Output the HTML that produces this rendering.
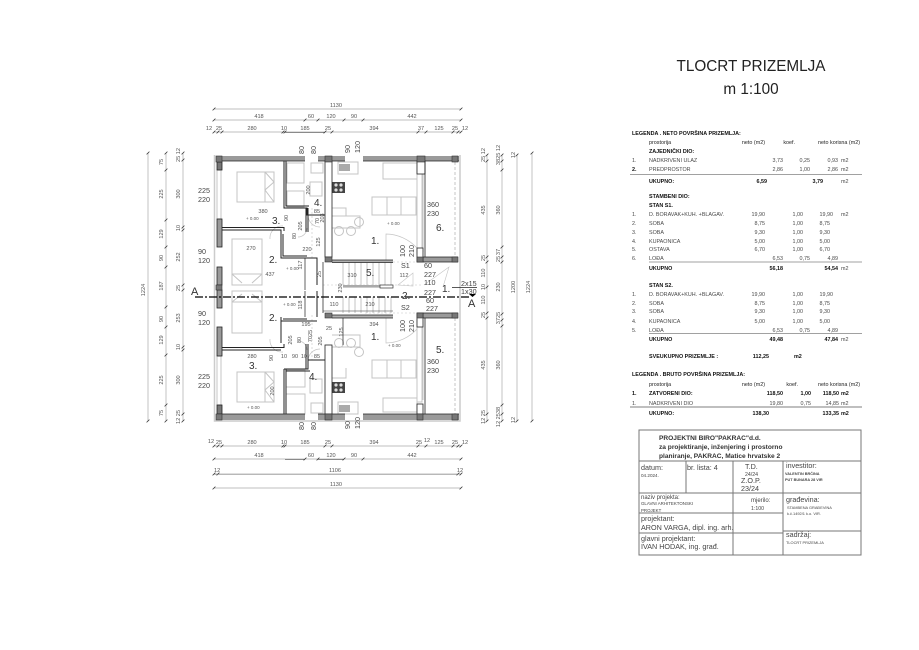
<!DOCTYPE html>
<html><head><meta charset="utf-8"><style>
html,body{margin:0;padding:0;background:#fff;width:919px;height:650px;overflow:hidden}
svg{display:block}
text{font-family:"Liberation Sans",sans-serif}
.d text{font-size:5.6px;fill:#555}
.r text{font-size:7.2px;fill:#444}
.n text{font-size:10px;fill:#333}
.t text{font-size:5.4px;fill:#4a4a4a}
.t .b{fill:#111;font-weight:bold}
.t .e{text-anchor:end}
.k text{fill:#444;font-size:7.2px}
</style></head><body>
<svg width="919" height="650" viewBox="0 0 919 650" xmlns="http://www.w3.org/2000/svg">
<defs>
<marker id="m" markerUnits="userSpaceOnUse" markerWidth="6" markerHeight="6" refX="3" refY="3" orient="0"><path d="M1.6 4.4L4.4 1.6" stroke="#333" stroke-width=".8"/></marker>
</defs>

<text x="751" y="71" font-size="15.3" text-anchor="middle" fill="#222">TLOCRT PRIZEMLJA</text>
<text x="751" y="94" font-size="15.3" text-anchor="middle" fill="#222">m 1:100</text>

<!-- dimension lines -->
<g fill="none" stroke="#aaa" stroke-width=".7" marker-start="url(#m)" marker-mid="url(#m)" marker-end="url(#m)">
<polyline points="214,109 461,109"/>
<polyline points="214,120 305,120 318,120 344,120 363,120 461,120"/>
<polyline points="214,132 218,132 222,132 283,132 285,132 325,132 332,132 418,132 426,132 453,132 458,132 461,132"/>
<polyline points="214,446 218,446 222,446 283,446 285,446 325,446 332,446 418,446 426,446 453,446 458,446 461,446"/>
<polyline points="214,459 305,459 318,459 344,459 363,459 461,459"/>
<polyline points="214,474 218,474 458,474 461,474"/>
<polyline points="214,488 461,488"/>
<polyline points="148,153 148,421"/>
<polyline points="166,153 166,170 166,220 166,247 166,267 166,307 166,327 166,355 166,405 166,421"/>
<polyline points="183,153 183,160 183,227 183,230 183,285 183,290 183,347 183,350 183,414 183,421"/>
<polyline points="487,155 487,161 487,257 487,262 487,287 487,313 487,318 487,414 487,421"/>
<polyline points="502,155 502,161 502,170 502,247 502,257 502,262 502,314 502,320 502,326 502,405 502,414 502,421"/>
<polyline points="517,155 517,421"/>
<polyline points="532,153 532,421"/>
</g>
<g stroke="#444" stroke-width=".6">
<path d="M285 132.3H325M285 459.3H305M318 459.3H344"/>
<path d="M214 474.3H458" stroke="#777" stroke-width=".5"/>
</g>
<g class="d">
<text x="336" y="107" text-anchor="middle">1130</text>
<text x="259" y="118" text-anchor="middle">418</text>
<text x="311" y="118" text-anchor="middle">60</text>
<text x="331" y="118" text-anchor="middle">120</text>
<text x="354" y="118" text-anchor="middle">90</text>
<text x="412" y="118" text-anchor="middle">442</text>
<text x="209" y="130" text-anchor="middle">12</text><text x="219" y="130" text-anchor="middle">25</text>
<text x="252" y="130" text-anchor="middle">280</text><text x="284" y="130" text-anchor="middle">10</text>
<text x="305" y="130" text-anchor="middle">185</text><text x="328" y="130" text-anchor="middle">25</text>
<text x="374" y="130" text-anchor="middle">394</text><text x="421" y="130" text-anchor="middle">37</text>
<text x="439" y="130" text-anchor="middle">125</text><text x="455" y="130" text-anchor="middle">25</text><text x="465" y="130" text-anchor="middle">12</text>
<text x="211" y="443" text-anchor="middle">12</text><text x="219" y="444" text-anchor="middle">25</text>
<text x="252" y="444" text-anchor="middle">280</text><text x="284" y="444" text-anchor="middle">10</text>
<text x="305" y="444" text-anchor="middle">185</text><text x="328" y="444" text-anchor="middle">25</text>
<text x="374" y="444" text-anchor="middle">394</text><text x="419" y="444" text-anchor="middle">25</text><text x="427" y="442" text-anchor="middle">12</text>
<text x="439" y="444" text-anchor="middle">125</text><text x="455" y="444" text-anchor="middle">25</text><text x="465" y="444" text-anchor="middle">12</text>
<text x="259" y="457" text-anchor="middle">418</text><text x="311" y="457" text-anchor="middle">60</text>
<text x="331" y="457" text-anchor="middle">120</text><text x="354" y="457" text-anchor="middle">90</text><text x="412" y="457" text-anchor="middle">442</text>
<text x="214" y="472">12</text><text x="335" y="472" text-anchor="middle">1106</text><text x="460" y="472" text-anchor="middle">12</text>
<text x="336" y="486" text-anchor="middle">1130</text>

<text transform="translate(145,290) rotate(-90)" text-anchor="middle">1224</text>
<text transform="translate(163,162) rotate(-90)" text-anchor="middle">75</text>
<text transform="translate(163,194) rotate(-90)" text-anchor="middle">225</text>
<text transform="translate(163,234) rotate(-90)" text-anchor="middle">129</text>
<text transform="translate(163,258) rotate(-90)" text-anchor="middle">90</text>
<text transform="translate(163,286) rotate(-90)" text-anchor="middle">187</text>
<text transform="translate(163,319) rotate(-90)" text-anchor="middle">90</text>
<text transform="translate(163,340) rotate(-90)" text-anchor="middle">129</text>
<text transform="translate(163,380) rotate(-90)" text-anchor="middle">225</text>
<text transform="translate(163,413) rotate(-90)" text-anchor="middle">75</text>
<text transform="translate(180,155) rotate(-90)" text-anchor="middle">25 12</text>
<text transform="translate(180,194) rotate(-90)" text-anchor="middle">300</text>
<text transform="translate(180,228) rotate(-90)" text-anchor="middle">10</text>
<text transform="translate(180,257) rotate(-90)" text-anchor="middle">252</text>
<text transform="translate(180,288) rotate(-90)" text-anchor="middle">25</text>
<text transform="translate(180,318) rotate(-90)" text-anchor="middle">253</text>
<text transform="translate(180,347) rotate(-90)" text-anchor="middle">10</text>
<text transform="translate(180,380) rotate(-90)" text-anchor="middle">300</text>
<text transform="translate(180,417) rotate(-90)" text-anchor="middle">12 25</text>

<text transform="translate(485,155) rotate(-90)" text-anchor="middle">25 12</text>
<text transform="translate(485,210) rotate(-90)" text-anchor="middle">435</text>
<text transform="translate(485,258) rotate(-90)" text-anchor="middle">25</text>
<text transform="translate(485,273) rotate(-90)" text-anchor="middle">110</text>
<text transform="translate(485,287) rotate(-90)" text-anchor="middle">10</text>
<text transform="translate(485,300) rotate(-90)" text-anchor="middle">110</text>
<text transform="translate(485,315) rotate(-90)" text-anchor="middle">25</text>
<text transform="translate(485,365) rotate(-90)" text-anchor="middle">435</text>
<text transform="translate(485,417) rotate(-90)" text-anchor="middle">12 25</text>
<text transform="translate(500,155) rotate(-90)" text-anchor="middle">3825 12</text>
<text transform="translate(500,210) rotate(-90)" text-anchor="middle">360</text>
<text transform="translate(500,252) rotate(-90)" text-anchor="middle">37</text>
<text transform="translate(500,259) rotate(-90)" text-anchor="middle">25</text>
<text transform="translate(500,287) rotate(-90)" text-anchor="middle">230</text>
<text transform="translate(500,318) rotate(-90)" text-anchor="middle">3725</text>
<text transform="translate(500,365) rotate(-90)" text-anchor="middle">360</text>
<text transform="translate(500,417) rotate(-90)" text-anchor="middle">12 2538</text>
<text transform="translate(515,287) rotate(-90)" text-anchor="middle">1200</text>
<text transform="translate(530,287) rotate(-90)" text-anchor="middle">1224</text>
<text transform="translate(515,155) rotate(-90)" text-anchor="middle">12</text>
<text transform="translate(515,420) rotate(-90)" text-anchor="middle">12</text>
</g>

<!-- furniture / light elements -->
<g fill="none" stroke="#c4c4c4" stroke-width="1">
<rect x="237" y="172" width="37" height="30"/><path d="M265 172V202M265 172l9 10-9 8 9 12M274 172v30"/>
<rect x="232" y="239" width="30" height="46"/><path d="M232 274l10 9M262 274l-10 9M232 274h30"/>
<rect x="232" y="291" width="30" height="42"/><path d="M232 302l10-8M262 302l-10-8M232 302h30"/>
<rect x="237" y="372" width="37" height="30"/><path d="M265 372V402M265 372l9 10-9 8 9 12M274 372v30"/>
<rect x="287" y="163" width="17" height="20"/><rect x="287" y="191" width="17" height="16"/>
<rect x="286" y="370" width="19" height="17"/><rect x="286" y="394" width="19" height="20"/>
<rect x="311" y="163" width="12" height="10"/><rect x="310" y="182" width="12" height="14"/>
<rect x="311" y="403" width="12" height="10"/><rect x="310" y="379" width="12" height="14"/>
<rect x="383" y="163" width="34" height="16"/><rect x="383" y="398" width="34" height="14"/>
<rect x="372" y="197" width="15" height="18"/><rect x="387" y="197" width="14" height="18"/><rect x="401" y="197" width="15" height="18"/>
<rect x="372" y="360" width="15" height="18"/><rect x="387" y="360" width="14" height="18"/><rect x="401" y="360" width="15" height="18"/>
<path d="M332 216h28v12h-28M332 208h14v8M332 347h28v-12h-28M332 378h14v-10"/>
<circle cx="339" cy="231" r="4.5"/><circle cx="351" cy="231" r="4.5"/><circle cx="359" cy="222" r="4.5"/>
<circle cx="339" cy="343" r="4.5"/><circle cx="351" cy="343" r="4.5"/><circle cx="359" cy="352" r="4.5"/>
<rect x="338" y="162" width="20" height="12"/><rect x="338" y="402" width="20" height="12"/>
<rect x="217" y="170" width="4" height="49"/><rect x="217" y="356" width="4" height="49"/>
<rect x="417" y="170" width="5" height="84"/><rect x="417" y="320" width="5" height="82"/>
<path d="M455 162V255M455 318V414" stroke-dasharray="3 2"/>
<path d="M423 172v80M423 320v80"/>
<path d="M312 208v52M312 315v45M365 262h54M365 313h54M323 285h100" stroke-dasharray="2 2" stroke-width=".6"/>
<path d="M417 248a43 43 0 0 0-31-14v28M417 329a43 43 0 0 1-31 14v-26" stroke-width=".7"/>
<path d="M283 226a12 12 0 0 0-13 13M283 352a12 12 0 0 1-13-13M307 228a9 9 0 0 1-9 9M307 350a9 9 0 0 0-9-9M308 215a12 12 0 0 0 12 12M308 361a12 12 0 0 1 12-12" stroke-width=".7"/>
<path d="M214.5 155v266h245.5V155" stroke="#ccc" stroke-width="1.5"/>
<path d="M398 285l15-12v13zM424 285l25-18 -6 20" stroke-width=".6"/>
</g>

<!-- kitchen -->
<g>
<rect x="339" y="164" width="11" height="7" fill="#aaa"/>
<rect x="332" y="182" width="13" height="11" fill="#444"/><circle cx="336" cy="185" r="1.6" fill="#ddd"/><circle cx="341" cy="185" r="1.6" fill="#ddd"/><circle cx="336" cy="190" r="1.6" fill="#ddd"/><circle cx="341" cy="190" r="1.6" fill="#ddd"/>
<rect x="339" y="405" width="11" height="7" fill="#aaa"/>
<rect x="332" y="382" width="13" height="11" fill="#444"/><circle cx="336" cy="385" r="1.6" fill="#ddd"/><circle cx="341" cy="385" r="1.6" fill="#ddd"/><circle cx="336" cy="390" r="1.6" fill="#ddd"/><circle cx="341" cy="390" r="1.6" fill="#ddd"/>
</g>

<!-- stairs -->
<g stroke="#888" stroke-width=".5" fill="none">
<path d="M343 262V285M349 262V285M355 262V285M361 262V285M367 262V285M373 262V285M379 262V285M385 262V285M391 262V285"/>
<path d="M343 297V313M349 297V313M355 297V313M361 297V313M367 297V313M373 297V313M379 297V313M385 297V313M391 297V313"/>
<path d="M343 287H380M323 311H393" stroke="#333"/>
<path d="M323 262V313" stroke="#333" stroke-width=".8"/>
</g>
<rect x="343" y="285" width="37" height="2" fill="#aaa"/>
<rect x="380" y="285" width="13" height="3" fill="#fff" stroke="#333" stroke-width=".7"/>

<!-- walls -->
<g fill="#9a9a9a" stroke="none">
<rect x="216" y="156" width="89" height="5"/>
<rect x="318" y="156" width="27" height="5"/>
<rect x="363" y="156" width="96" height="5"/>
<rect x="216" y="414" width="89" height="6"/>
<rect x="318" y="414" width="27" height="6"/>
<rect x="363" y="414" width="96" height="6"/>
<rect x="423" y="257" width="35" height="5"/>
<rect x="423" y="313" width="35" height="5"/>
<rect x="332" y="260" width="61" height="2.5" fill="#b0b0b0"/>
<rect x="332" y="315" width="61" height="3" fill="#b0b0b0"/>
</g>
<g stroke="#222" stroke-width=".8" fill="none">
<path d="M222 161H305M318 161H345M363 161H459M222 414H305M318 414H345M363 414H459M423 257H458M423 262H458M423 313H458M423 318H458M332 260H393M332 262.5H393M332 315H393M332 318H393"/>
</g>
<g fill="#fff" stroke="#222" stroke-width=".8">
<rect x="217" y="162" width="5" height="8" fill="#777"/>
<rect x="217" y="219" width="5" height="28" fill="#999"/>
<rect x="217" y="267" width="5" height="18" fill="#999"/>
<rect x="217" y="290" width="5" height="18" fill="#999"/>
<rect x="217" y="327" width="5" height="29" fill="#999"/>
<rect x="217" y="405" width="5" height="9" fill="#777"/>
<rect x="417" y="161" width="8" height="13"/>
<rect x="417" y="248" width="6" height="14"/>
<rect x="417" y="313" width="6" height="14"/>
<rect x="417" y="404" width="6" height="10"/>
<rect x="325" y="161" width="7" height="96"/>
<rect x="325" y="345" width="7" height="69"/>
</g>
<g fill="#777" stroke="#333" stroke-width=".6">
<rect x="216" y="156" width="6" height="6"/>
<rect x="216" y="285" width="6" height="5"/>
<rect x="216" y="414" width="6" height="6"/>
<rect x="325" y="156" width="7" height="6"/>
<rect x="325" y="257" width="7" height="5"/>
<rect x="325" y="313" width="7" height="5"/>
<rect x="325" y="414" width="7" height="6"/>
<rect x="417" y="156" width="8" height="6"/>
<rect x="417" y="257" width="6" height="5"/>
<rect x="417" y="313" width="6" height="5"/>
<rect x="417" y="414" width="6" height="6"/>
<rect x="452" y="156" width="6" height="6"/>
<rect x="452" y="257" width="6" height="5"/>
<rect x="452" y="313" width="6" height="5"/>
<rect x="452" y="414" width="6" height="6"/>
</g>
<g fill="none" stroke="#222" stroke-width="1">
<path d="M284 161V208H307V215H325"/>
<path d="M286 161V206H309"/>
<path d="M222 227.5H284V231M222 230H281V234"/>
<path d="M281 234V258H317V262"/>
<path d="M283 234V256H307"/>
<path d="M317 262V285M317 291V317"/>
<path d="M222 347.5H284V344M222 350H281"/>
<path d="M281 317V321H317M283 319H307M281 321V343"/>
<path d="M284 369V414M286 369V414M284 369H308V360H325M286 371H310"/>
<path d="M306 208V232M308 208V232M306 344V369M308 344V369"/>
<path d="M343 318V345M305 258V290M305 291V317" stroke-width=".7"/>
<path d="M425 161V257M425 318V414" stroke-width=".8"/>
</g>

<!-- section line -->
<path d="M195 297H470" stroke="#000" stroke-width="1.3" stroke-dasharray="8 2 2 2"/>
<path d="M452 287.5H477" stroke="#222" stroke-width=".8"/>
<path d="M469 294h7l-3.5 3z" fill="#000"/>

<!-- dim text on plan -->
<g class="d">
<text x="263" y="213" text-anchor="middle">380</text><text x="251" y="250" text-anchor="middle">270</text>
<text x="270" y="276" text-anchor="middle">437</text><text x="307" y="251" text-anchor="middle">220</text>
<text x="317" y="213" text-anchor="middle">85</text><text x="306" y="326" text-anchor="middle">195</text>
<text x="252" y="358" text-anchor="middle">280</text><text x="284" y="358" text-anchor="middle">10</text>
<text x="295" y="358" text-anchor="middle">90</text><text x="304" y="358" text-anchor="middle">10</text><text x="317" y="358" text-anchor="middle">85</text>
<text x="374" y="326" text-anchor="middle">394</text><text x="352" y="277" text-anchor="middle">310</text>
<text x="334" y="306" text-anchor="middle">110</text><text x="370" y="306" text-anchor="middle">210</text><text x="404" y="277" text-anchor="middle">112</text>
<text x="329" y="330" text-anchor="middle">25</text>
<text transform="translate(310,190) rotate(-90)" text-anchor="middle">200</text>
<text transform="translate(288,218) rotate(-90)" text-anchor="middle">90</text>
<text transform="translate(302,226) rotate(-90)" text-anchor="middle">205</text>
<text transform="translate(296,236) rotate(-90)" text-anchor="middle">80</text>
<text transform="translate(319,221) rotate(-90)" text-anchor="middle">70</text>
<text transform="translate(324,218) rotate(-90)" text-anchor="middle">203</text>
<text transform="translate(320,242) rotate(-90)" text-anchor="middle">125</text>
<text transform="translate(302,265) rotate(-90)" text-anchor="middle">117</text>
<text transform="translate(302,305) rotate(-90)" text-anchor="middle">118</text>
<text transform="translate(321,274) rotate(-90)" text-anchor="middle">25</text>
<text transform="translate(342,288) rotate(-90)" text-anchor="middle">230</text>
<text transform="translate(301,340) rotate(-90)" text-anchor="middle">80</text>
<text transform="translate(292,340) rotate(-90)" text-anchor="middle">205</text>
<text transform="translate(312,336) rotate(-90)" text-anchor="middle">7025</text>
<text transform="translate(322,341) rotate(-90)" text-anchor="middle">205</text>
<text transform="translate(343,332) rotate(-90)" text-anchor="middle">125</text>
<text transform="translate(273,358) rotate(-90)" text-anchor="middle">90</text>
<text transform="translate(274,391) rotate(-90)" text-anchor="middle">200</text>
<text x="246" y="220" style="font-size:4.5px">+ 0.00</text><text x="286" y="270" style="font-size:4.5px">+ 0.00</text>
<text x="387" y="225" style="font-size:4.5px">+ 0.00</text><text x="283" y="306" style="font-size:4.5px">+ 0.00</text>
<text x="388" y="347" style="font-size:4.5px">+ 0.00</text><text x="247" y="409" style="font-size:4.5px">+ 0.00</text>
</g>
<g class="r">
<text x="198" y="193">225</text><text x="198" y="202">220</text>
<text x="198" y="254">90</text><text x="198" y="263">120</text>
<text x="198" y="316">90</text><text x="198" y="325">120</text>
<text x="198" y="379">225</text><text x="198" y="388">220</text>
<text x="427" y="207">360</text><text x="427" y="216">230</text>
<text x="427" y="364">360</text><text x="427" y="373">230</text>
<text x="424" y="268">60</text><text x="424" y="277">227</text>
<text x="424" y="285">110</text><text x="424" y="295">227</text>
<text x="426" y="303">60</text><text x="426" y="311">227</text>
<text x="461" y="286">2x15</text><text x="461" y="294">1x30</text>
<text x="401" y="268">S1</text><text x="401" y="310">S2</text>
<text transform="translate(304,154) rotate(-90)">80</text><text transform="translate(316,154) rotate(-90)">80</text>
<text transform="translate(350,153) rotate(-90)">90</text><text transform="translate(360,153) rotate(-90)">120</text>
<text transform="translate(304,430) rotate(-90)">80</text><text transform="translate(316,430) rotate(-90)">80</text>
<text transform="translate(350,429) rotate(-90)">90</text><text transform="translate(360,429) rotate(-90)">120</text>
<text transform="translate(405,257) rotate(-90)">100</text><text transform="translate(414,257) rotate(-90)">210</text>
<text transform="translate(405,332) rotate(-90)">100</text><text transform="translate(414,332) rotate(-90)">210</text>
</g>
<g class="n">
<text x="272" y="224">3.</text><text x="269" y="263">2.</text><text x="269" y="321">2.</text><text x="249" y="369">3.</text>
<text x="314" y="206">4.</text><text x="309" y="380">4.</text>
<text x="371" y="244">1.</text><text x="371" y="340">1.</text>
<text x="366" y="276">5.</text><text x="402" y="299">2.</text><text x="442" y="292">1.</text>
<text x="436" y="231">6.</text><text x="436" y="353">5.</text>
<text x="191" y="295" style="font-size:11px">A</text><text x="468" y="307" style="font-size:11px">A</text>
</g>

<!-- legend -->
<g class="t">
<text class="b" x="632" y="135">LEGENDA . NETO POVRŠINA PRIZEMLJA:</text>
<text x="649" y="144" style="fill:#222">prostorija</text><text class="e" x="765" y="144" style="fill:#222">neto (m2)</text><text x="795" class="e" y="144" style="fill:#222">koef.</text><text x="860" class="e" y="144" style="fill:#222">neto korisna (m2)</text>
<text class="b" x="649" y="153">ZAJEDNIČKI DIO:</text>
<text x="632" y="162">1.</text><text x="649" y="162">NADKRIVENI ULAZ</text><text class="e" x="783" y="162">3,73</text><text class="e" x="810" y="162">0,25</text><text class="e" x="838" y="162">0,93</text><text x="841" y="162">m2</text>
<text class="b" x="632" y="171">2.</text><text x="649" y="171">PREDPROSTOR</text><text class="e" x="783" y="171">2,86</text><text class="e" x="810" y="171">1,00</text><text class="e" x="838" y="171">2,86</text><text x="841" y="171">m2</text>
<text class="b" x="649" y="183">UKUPNO:</text><text class="b e" x="767" y="183">6,59</text><text class="b e" x="823" y="183">3,79</text><text x="841" y="183">m2</text>
<text class="b" x="649" y="198">STAMBENI DIO:</text>
<text class="b" x="649" y="207">STAN S1.</text>
<text x="632" y="216">1.</text><text x="649" y="216">D. BORAVAK+KUH. +BLAGAV.</text><text class="e" x="765" y="216">19,90</text><text class="e" x="803" y="216">1,00</text><text class="e" x="833" y="216">19,90</text><text x="841" y="216">m2</text>
<text x="632" y="225">2.</text><text x="649" y="225">SOBA</text><text class="e" x="765" y="225">8,75</text><text class="e" x="803" y="225">1,00</text><text class="e" x="830" y="225">8,75</text>
<text x="632" y="234">3.</text><text x="649" y="234">SOBA</text><text class="e" x="765" y="234">9,30</text><text class="e" x="803" y="234">1,00</text><text class="e" x="830" y="234">9,30</text>
<text x="632" y="243">4.</text><text x="649" y="243">KUPAONICA</text><text class="e" x="765" y="243">5,00</text><text class="e" x="803" y="243">1,00</text><text class="e" x="830" y="243">5,00</text>
<text x="632" y="251">5.</text><text x="649" y="251">OSTAVA</text><text class="e" x="765" y="251">6,70</text><text class="e" x="803" y="251">1,00</text><text class="e" x="830" y="251">6,70</text>
<text x="632" y="260">6.</text><text x="649" y="260">LOĐA</text><text class="e" x="783" y="260">6,53</text><text class="e" x="810" y="260">0,75</text><text class="e" x="838" y="260">4,89</text>
<text class="b" x="649" y="270">UKUPNO</text><text class="b e" x="783" y="270">56,18</text><text class="b e" x="838" y="270">54,54</text><text x="841" y="270">m2</text>
<text class="b" x="649" y="287">STAN S2.</text>
<text x="632" y="296">1.</text><text x="649" y="296">D. BORAVAK+KUH. +BLAGAV.</text><text class="e" x="765" y="296">19,90</text><text class="e" x="803" y="296">1,00</text><text class="e" x="833" y="296">19,90</text>
<text x="632" y="305">2.</text><text x="649" y="305">SOBA</text><text class="e" x="765" y="305">8,75</text><text class="e" x="803" y="305">1,00</text><text class="e" x="830" y="305">8,75</text>
<text x="632" y="313">3.</text><text x="649" y="313">SOBA</text><text class="e" x="765" y="313">9,30</text><text class="e" x="803" y="313">1,00</text><text class="e" x="830" y="313">9,30</text>
<text x="632" y="323">4.</text><text x="649" y="323">KUPAONICA</text><text class="e" x="765" y="323">5,00</text><text class="e" x="803" y="323">1,00</text><text class="e" x="830" y="323">5,00</text>
<text x="632" y="332">5.</text><text x="649" y="332">LOĐA</text><text class="e" x="783" y="332">6,53</text><text class="e" x="810" y="332">0,75</text><text class="e" x="838" y="332">4,89</text>
<text class="b" x="649" y="341">UKUPNO</text><text class="b e" x="783" y="341">49,48</text><text class="b e" x="838" y="341">47,84</text><text x="841" y="341">m2</text>
<text class="b" x="649" y="358">SVEUKUPNO PRIZEMLJE :</text><text class="b e" x="769" y="358">112,25</text><text class="b" x="794" y="358">m2</text>
<text class="b" x="632" y="376">LEGENDA . BRUTO POVRŠINA PRIZEMLJA:</text>
<text x="649" y="386" style="fill:#222">prostorija</text><text class="e" x="765" y="386" style="fill:#222">neto (m2)</text><text class="e" x="798" y="386" style="fill:#222">koef.</text><text class="e" x="860" y="386" style="fill:#222">neto korisna (m2)</text>
<text class="b" x="632" y="395">1.</text><text class="b" x="649" y="395">ZATVORENI DIO:</text><text class="b e" x="783" y="395">118,50</text><text class="b e" x="811" y="395">1,00</text><text class="b e" x="839" y="395">118,50</text><text class="b" x="841" y="395">m2</text>
<text x="632" y="405">1.</text><text x="649" y="405">NADKRIVENI DIO</text><text class="e" x="783" y="405">19,80</text><text class="e" x="811" y="405">0,75</text><text class="e" x="839" y="405">14,85</text><text x="841" y="405">m2</text>
<text class="b" x="649" y="415">UKUPNO:</text><text class="b e" x="769" y="415">138,30</text><text class="b e" x="839" y="415">133,35</text><text class="b" x="841" y="415">m2</text>
</g>
<g stroke="#444" stroke-width=".6">
<path d="M630 174.5H862M649 262H862M649 333.5H862"/>
<path d="M630 407H862" stroke="#999" stroke-width="1.2"/>
</g>

<!-- title block -->
<g fill="none" stroke="#777" stroke-width="1">
<rect x="639" y="430" width="222" height="125"/>
<path d="M639 461H861M639 493H861M686 461V493M733 461V555M783 461V555M639 513H783M639 533H783M783 531H861"/>
</g>
<g class="k">
<text x="659" y="440" style="font-size:6.6px;font-weight:bold;fill:#333">PROJEKTNI BIRO"PAKRAC"d.d.</text>
<text x="659" y="449" style="font-size:6.6px;font-weight:bold;fill:#333">za projektiranje, inženjering i prostorno</text>
<text x="659" y="458" style="font-size:6.6px;font-weight:bold;fill:#333">planiranje, PAKRAC, Matice hrvatske 2</text>
<text x="641" y="470">datum:</text><text x="641" y="477" style="font-size:4.6px">04.2024.</text>
<text x="687" y="470">br. lista: 4</text>
<text x="745" y="469">T.D.</text><text x="745" y="476" style="font-size:5.2px">24/24</text>
<text x="741" y="483">Z.O.P.</text><text x="741" y="491">23/24</text>
<text x="786" y="468">investitor:</text>
<text x="785" y="475" style="font-size:3.8px;font-weight:bold"> VALENTIN BRČINA</text>
<text x="785" y="481" style="font-size:3.8px;font-weight:bold">PUT BUNARA 28 VIR</text>
<text x="641" y="499" style="font-size:6px">naziv projekta:</text>
<text x="641" y="505" style="font-size:4.4px">GLAVNI ARHITEKTONSKI</text>
<text x="641" y="512" style="font-size:4.4px">PROJEKT</text>
<text x="751" y="502" style="font-size:6px">mjerilo:</text><text x="751" y="510" style="font-size:5.2px">1:100</text>
<text x="786" y="502">građevina:</text>
<text x="787" y="509" style="font-size:3.9px">STAMBENA GRAĐEVINA</text>
<text x="787" y="515" style="font-size:3.9px">k.č.1492/1 k.o. VIR.</text>
<text x="641" y="521">projektant:</text>
<text x="641" y="530">ARON VARGA, dipl. ing. arh.</text>
<text x="641" y="541">glavni projektant:</text>
<text x="641" y="549">IVAN HODAK, ing. građ.</text>
<text x="786" y="537">sadržaj:</text>
<text x="786" y="544" style="font-size:3.9px">TLOCRT  PRIZEMLJA</text>
</g>
</svg>
</body></html>
